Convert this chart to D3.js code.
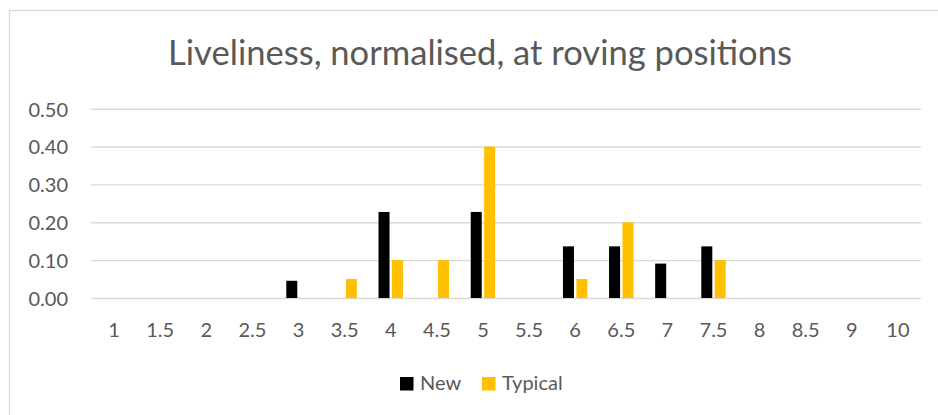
<!DOCTYPE html>
<html>
<head>
<meta charset="utf-8">
<script src="https://cdn.jsdelivr.net/npm/d3@7"></script>
<style>
  html, body { margin: 0; padding: 0; background: #fff; }
  svg { display: block; font-family: Lato, "Open Sans", sans-serif; }
</style>
</head>
<body>
<svg id="chart" width="938" height="415"></svg>
<script>
// Roving positions along the room
const positions = ["1", "1.5", "2", "2.5", "3", "3.5", "4", "4.5", "5", "5.5", "6", "6.5", "7", "7.5", "8", "8.5", "9", "10"];
// Normalised liveliness share per position
const newValues     = [0, 0, 0, 0, 0.0455, 0, 0.2273, 0, 0.2273, 0, 0.1364, 0.1364, 0.0909, 0.1364, 0, 0, 0, 0];
const typicalValues = [0, 0, 0, 0, 0, 0.05, 0.10, 0.10, 0.40, 0, 0.05, 0.20, 0, 0.10, 0, 0, 0, 0];
const seriesNames = ["New", "Typical"];
const seriesColors = ["#000000", "#FFC000"];
const yTicks = [0, 0.1, 0.2, 0.3, 0.4, 0.5];
const titleText = "Liveliness, normalised, at roving positions";

const textColor = "#595959";
const gridColor = "#d9d9d9";

const svg = d3.select("#chart");

// outer chart frame
svg.append("rect")
  .attr("x", 9.5).attr("y", 10.5)
  .attr("width", 940).attr("height", 420)
  .attr("fill", "none")
  .attr("stroke", gridColor)
  .attr("stroke-width", 1.3);

const plot = { left: 91, right: 921, top: 108.7, bottom: 298 };

const x0 = d3.scaleBand()
  .domain(positions)
  .range([plot.left, plot.right])
  .paddingInner(0.47)
  .paddingOuter(0.235);

const x1 = d3.scaleBand()
  .domain(seriesNames)
  .range([0, x0.bandwidth()])
  .paddingInner(0.18);

const y = d3.scaleLinear()
  .domain([0, 0.5])
  .range([plot.bottom, plot.top]);

const color = d3.scaleOrdinal().domain(seriesNames).range(seriesColors);

// title, sized to the plot's width
const title = svg.append("text")
  .attr("x", 480)
  .attr("y", 65)
  .attr("text-anchor", "middle")
  .attr("fill", textColor)
  .attr("font-size", 30)
  .text(titleText);
const tw = title.node().getComputedTextLength();
title.attr("font-size", 30 * 624 / tw);

// y axis with gridlines
const yAxis = svg.append("g")
  .attr("transform", `translate(${plot.left},0)`)
  .call(d3.axisLeft(y)
    .tickValues(yTicks)
    .tickFormat(d3.format(".2f"))
    .tickSize(-(plot.right - plot.left))
    .tickPadding(23));
yAxis.select(".domain").remove();
yAxis.selectAll(".tick line")
  .attr("stroke", gridColor)
  .attr("stroke-width", 1.4);
yAxis.selectAll(".tick text")
  .attr("fill", textColor)
  .attr("font-size", 20)
  .attr("font-family", "Lato, 'Open Sans', sans-serif")
  .attr("dy", "0.37em");

// x axis labels
const xAxis = svg.append("g")
  .attr("transform", `translate(0,${plot.bottom})`)
  .call(d3.axisBottom(x0).tickSize(0).tickPadding(0));
xAxis.select(".domain").remove();
xAxis.selectAll(".tick text")
  .attr("fill", textColor)
  .attr("font-size", 20)
  .attr("font-family", "Lato, 'Open Sans', sans-serif")
  .attr("y", 38.5)
  .attr("dy", 0);

// grouped bars
const rows = positions.map((p, i) => ({ pos: p, values: [newValues[i], typicalValues[i]] }));

svg.append("g")
  .selectAll("g")
  .data(rows)
  .join("g")
  .attr("transform", d => `translate(${x0(d.pos)},0)`)
  .selectAll("rect")
  .data(d => d.values.map((v, k) => ({ key: seriesNames[k], value: v })))
  .join("rect")
  .attr("x", d => x1(d.key))
  .attr("width", x1.bandwidth())
  .attr("y", d => y(d.value))
  .attr("height", d => y(0) - y(d.value))
  .attr("fill", d => color(d.key));

// legend
const legendItems = [
  { name: "New", sx: 400, tx: 420 },
  { name: "Typical", sx: 482, tx: 502 }
];
const legend = svg.append("g");
legendItems.forEach(it => {
  legend.append("rect")
    .attr("x", it.sx).attr("y", 377)
    .attr("width", 13.5).attr("height", 13.5)
    .attr("fill", color(it.name));
  legend.append("text")
    .attr("x", it.tx).attr("y", 390)
    .attr("fill", textColor)
    .attr("font-size", 20)
    .text(it.name);
});
</script>
</body>
</html>
